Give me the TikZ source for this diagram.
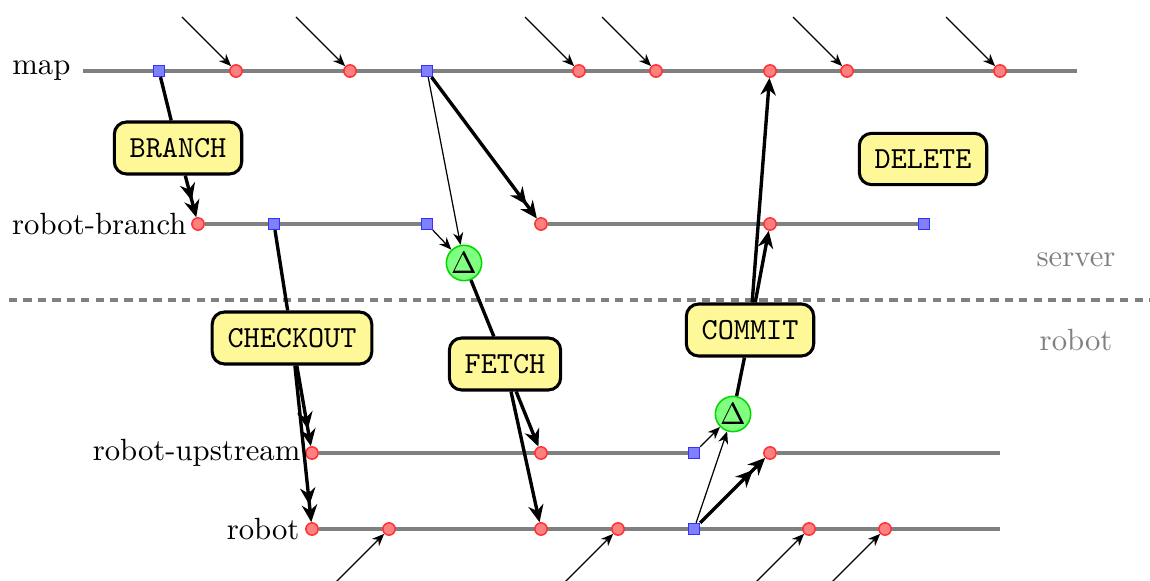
\documentclass[tikz,border=0pt]{standalone}
\usetikzlibrary{arrows.meta}
\pgfdeclarelayer{background}
\pgfsetlayers{background,main}
\definecolor{notefill}{RGB}{255,248,153}
\begin{document}
\begin{tikzpicture}[x=0.3257pt,y=-0.3257pt,
  track/.style={draw=gray, line width=1.3pt},
  commit/.style={circle, draw=red!80, fill=red!50, line width=0.5pt, minimum size=4pt, inner sep=0pt},
  tagsq/.style={rectangle, draw=blue!80, fill=blue!50, line width=0.5pt, minimum size=3.5pt, inner sep=0pt},
  delta/.style={circle, draw=green!85!black, fill=green!50, line width=0.5pt, minimum size=11.5pt, inner sep=0pt},
  op/.style={draw, line width=1pt, rounded corners=4pt, fill=notefill, font=\ttfamily, inner xsep=5pt, inner ysep=5.3pt},
  lbl/.style={anchor=east, inner sep=0pt},
  zone/.style={text=gray, inner sep=0pt},
  flow/.style={line width=1.1pt},
  dbl/.style={flow, -{Stealth[length=5.6pt,width=5pt] Stealth[length=5.6pt,width=5pt]}},
  sgl/.style={flow, -{Stealth[length=5.6pt,width=5pt]}},
  feed/.style={line width=0.4pt, -{Stealth[length=4pt,width=3.3pt]}},
]
\useasboundingbox (0,0) rectangle (1150,581);

% branch labels
\node[lbl] (lmap) at (71,71) {map};
\node[lbl] (lrb) at (187,224) {robot-branch};
\node[lbl] (lru) at (301,453) {robot-upstream};
\node[lbl] (lr) at (300,529) {robot};
\node[zone] (lserver) at (1076,260) {server};
\node[zone] (lrobot) at (1076,340) {robot};

% map
\coordinate (mapL) at (83,71);
\coordinate (mapR) at (1077,71);
\node[tagsq] (m0) at (159,71) {};
\node[commit] (m1) at (236,71) {};
\node[commit] (m2) at (350,71) {};
\node[tagsq] (m3) at (427,71) {};
\node[commit] (m4) at (579,71) {};
\node[commit] (m5) at (656,71) {};
\node[commit] (m6) at (770,71) {};
\node[commit] (m7) at (847,71) {};
\node[commit] (m8) at (1000,71) {};

% robot-branch
\node[commit] (b1) at (198,224) {};
\node[tagsq] (b2) at (274,224) {};
\node[tagsq] (b3) at (427,224) {};
\node[commit] (b4) at (541,224) {};
\node[commit] (b5) at (770,224) {};
\node[tagsq] (b6) at (924,224) {};

% robot-upstream
\node[commit] (u1) at (312,453) {};
\node[commit] (u2) at (541,453) {};
\node[tagsq] (u3) at (694,453) {};
\node[commit] (u4) at (770,453) {};
\coordinate (uR) at (1000,453);

% robot
\node[commit] (r1) at (312,529) {};
\node[commit] (r2) at (389,529) {};
\node[commit] (r3) at (541,529) {};
\node[commit] (r4) at (618,529) {};
\node[tagsq] (r5) at (694,529) {};
\node[commit] (r6) at (809,529) {};
\node[commit] (r7) at (885,529) {};
\coordinate (rR) at (1000,529);

\begin{pgfonlayer}{background}
  \draw[track] (mapL) -- (mapR);
  \draw[track] (b1) -- (b3);
  \draw[track] (b4) -- (b6);
  \draw[track] (u1) -- (u3);
  \draw[track] (u4) -- (uR);
  \draw[track] (r1) -- (rR);
\end{pgfonlayer}

% server / robot divider
\coordinate (divL) at (9,300);
\coordinate (divR) at (1150,300);
\draw[draw=gray, line width=1.3pt, dash pattern=on 2.7pt off 2pt] (divL) -- (divR);

% operations
\node[op] (branch) at (178,148) {BRANCH};
\node[op] (checkout) at (292,338) {CHECKOUT};
\node[op] (fetch) at (505,364) {FETCH};
\node[op] (commitop) at (750,330) {COMMIT};
\node[op] (delete) at (923,159) {DELETE};
\node[delta] (d1) at (464,263) {$\Delta$};
\node[delta] (d2) at (733,414) {$\Delta$};

% branch
\draw[flow] (m0) -- (branch);
\draw[dbl] (branch) -- (b1);

% checkout
\draw[flow] (b2) -- (checkout);
\draw[dbl] (checkout) -- (u1);
\draw[dbl] (checkout) -- (r1);

% fetch
\draw[dbl] (m3) -- (b4);
\draw[feed] (m3) -- (d1);
\draw[feed] (b3) -- (d1);
\draw[flow] (d1) -- (fetch);
\draw[sgl] (fetch) -- (u2);
\draw[sgl] (fetch) -- (r3);

% commit
\draw[dbl] (r5) -- (u4);
\draw[feed] (u3) -- (d2);
\draw[feed] (r5) -- (d2);
\draw[flow] (d2) -- (commitop);
\draw[sgl] (commitop) -- (m6);
\draw[sgl] (commitop) -- (b5);

% incoming commits on map
\foreach \n/\x in {m1/236, m2/350, m4/579, m5/656, m7/847, m8/1000} {
  \coordinate (\n-in) at (\x-54,17);
  \draw[feed] (\n-in) -- (\n);
}
% incoming commits on robot
\foreach \n/\x in {r2/389, r4/618, r6/809, r7/885} {
  \coordinate (\n-in) at (\x-54,583);
  \draw[feed] (\n-in) -- (\n);
}
\end{tikzpicture}
\end{document}
